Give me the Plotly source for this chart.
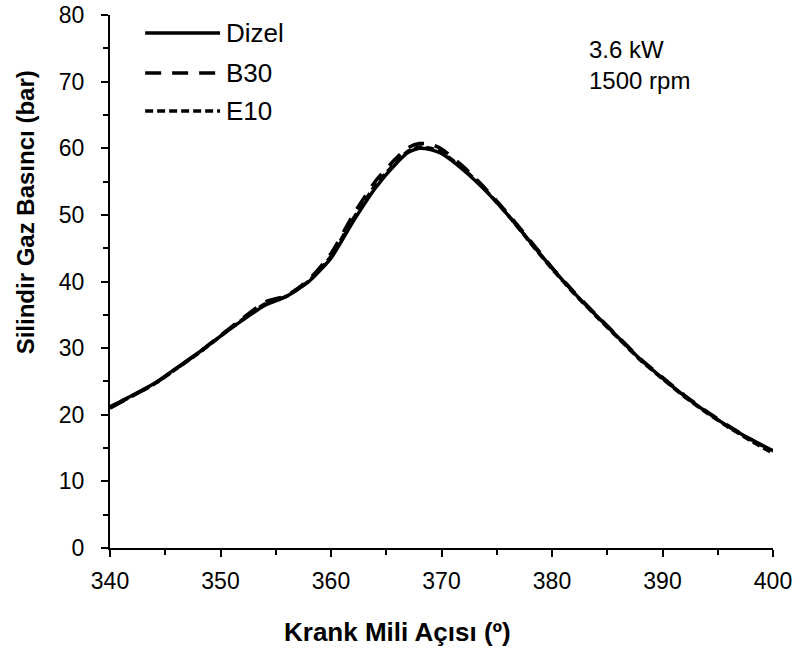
import plotly.graph_objects as go

# Crank angle (degrees) and cylinder gas pressure (bar) for each fuel
crank_angle = [340, 342, 344, 346, 348, 350, 352, 354, 356, 358, 360, 362, 364,
               366, 367, 368, 369, 370, 372, 374, 376, 378, 380, 382, 384, 386,
               388, 390, 392, 394, 396, 398, 400]
dizel = [21.2, 22.9, 24.7, 27.0, 29.3, 31.8, 34.2, 36.4, 37.8, 40.0, 43.5, 49.0,
         54.0, 57.9, 59.4, 60.0, 59.8, 59.2, 56.7, 53.6, 50.0, 46.0, 42.0, 38.3,
         34.9, 31.6, 28.3, 25.5, 22.8, 20.4, 18.2, 16.3, 14.6]
b30 = [21.0, 22.8, 24.6, 26.9, 29.3, 31.9, 34.5, 36.9, 37.9, 40.3, 44.2, 50.0,
       55.0, 58.7, 60.1, 60.7, 60.6, 59.9, 57.2, 53.9, 50.2, 46.2, 42.1, 38.4,
       35.0, 31.7, 28.4, 25.6, 22.9, 20.5, 18.3, 16.3, 14.5]
e10 = [21.1, 22.8, 24.6, 26.9, 29.2, 31.8, 34.3, 36.6, 37.8, 40.1, 43.8, 49.4,
       54.4, 58.1, 59.6, 60.2, 60.0, 59.4, 56.9, 53.7, 50.0, 45.9, 41.9, 38.2,
       34.8, 31.5, 28.2, 25.4, 22.7, 20.3, 18.1, 16.1, 14.2]

series_names = ["Dizel", "B30", "E10"]
series_values = [dizel, b30, e10]
series_dash = ["solid", "16px,11px", "8px,4px"]

x_ticks = [340, 350, 360, 370, 380, 390, 400]
y_ticks = [0, 10, 20, 30, 40, 50, 60, 70, 80]

FONT = "Liberation Sans, Arial, sans-serif"

fig = go.Figure()
for name, vals, dash in zip(series_names, series_values, series_dash):
    fig.add_trace(go.Scatter(
        x=crank_angle, y=vals, name=name, mode="lines",
        line=dict(color="black", width=3.5, dash=dash, shape="spline", smoothing=0.6),
        showlegend=False,
    ))

# Legend drawn as long line samples with labels beside them
legend_y = [0.966, 0.891, 0.82]
for name, dash, ly in zip(series_names, series_dash, legend_y):
    fig.add_shape(type="line", xref="paper", yref="paper",
                  x0=0.053, x1=0.166, y0=ly, y1=ly,
                  line=dict(color="black", width=3.5, dash=dash))
    fig.add_annotation(xref="paper", yref="paper", x=0.172, y=ly,
                       text=name, showarrow=False, xanchor="left", yanchor="middle",
                       font=dict(family=FONT, size=26, color="black"))

fig.add_annotation(xref="paper", yref="paper", x=0.72, y=0.906,
                   text="3.6 kW<br>1500 rpm", showarrow=False, align="left",
                   xanchor="left", yanchor="middle",
                   font=dict(family=FONT, size=24, color="black"))

# Axis titles
fig.add_annotation(xref="paper", yref="paper", x=-0.128, y=0.63,
                   text="<b>Silindir Gaz Basıncı (bar)</b>", textangle=-90,
                   showarrow=False, xanchor="center", yanchor="middle",
                   font=dict(family=FONT, size=24, color="black"))
fig.add_annotation(xref="paper", yref="paper", x=0.433, y=-0.158,
                   text="<b>Krank Mili Açısı (º)</b>",
                   showarrow=False, xanchor="center", yanchor="middle",
                   font=dict(family=FONT, size=26, color="black"))

fig.update_layout(
    width=800, height=653,
    margin=dict(l=110, r=27, t=15, b=105),
    paper_bgcolor="white", plot_bgcolor="white",
    font=dict(family=FONT, size=23, color="black"),
    xaxis=dict(
        range=[340, 400], tickvals=x_ticks, showgrid=False, zeroline=False,
        automargin=False,
        showline=True, linecolor="black", linewidth=2,
        ticks="outside", ticklen=7, tickwidth=2, tickcolor="black",
        minor=dict(ticks="outside", dtick=5, ticklen=5, tickwidth=2, tickcolor="black"),
        tickfont=dict(family=FONT, size=23, color="black"),
        ticklabelstandoff=4,
    ),
    yaxis=dict(
        range=[0, 80], tickvals=y_ticks, showgrid=False, zeroline=False,
        automargin=False,
        showline=True, linecolor="black", linewidth=2,
        ticks="outside", ticklen=7, tickwidth=2, tickcolor="black",
        minor=dict(ticks="outside", dtick=5, ticklen=5, tickwidth=2, tickcolor="black"),
        tickfont=dict(family=FONT, size=23, color="black"),
        ticklabelstandoff=12,
    ),
)

fig.write_html("out.html")
